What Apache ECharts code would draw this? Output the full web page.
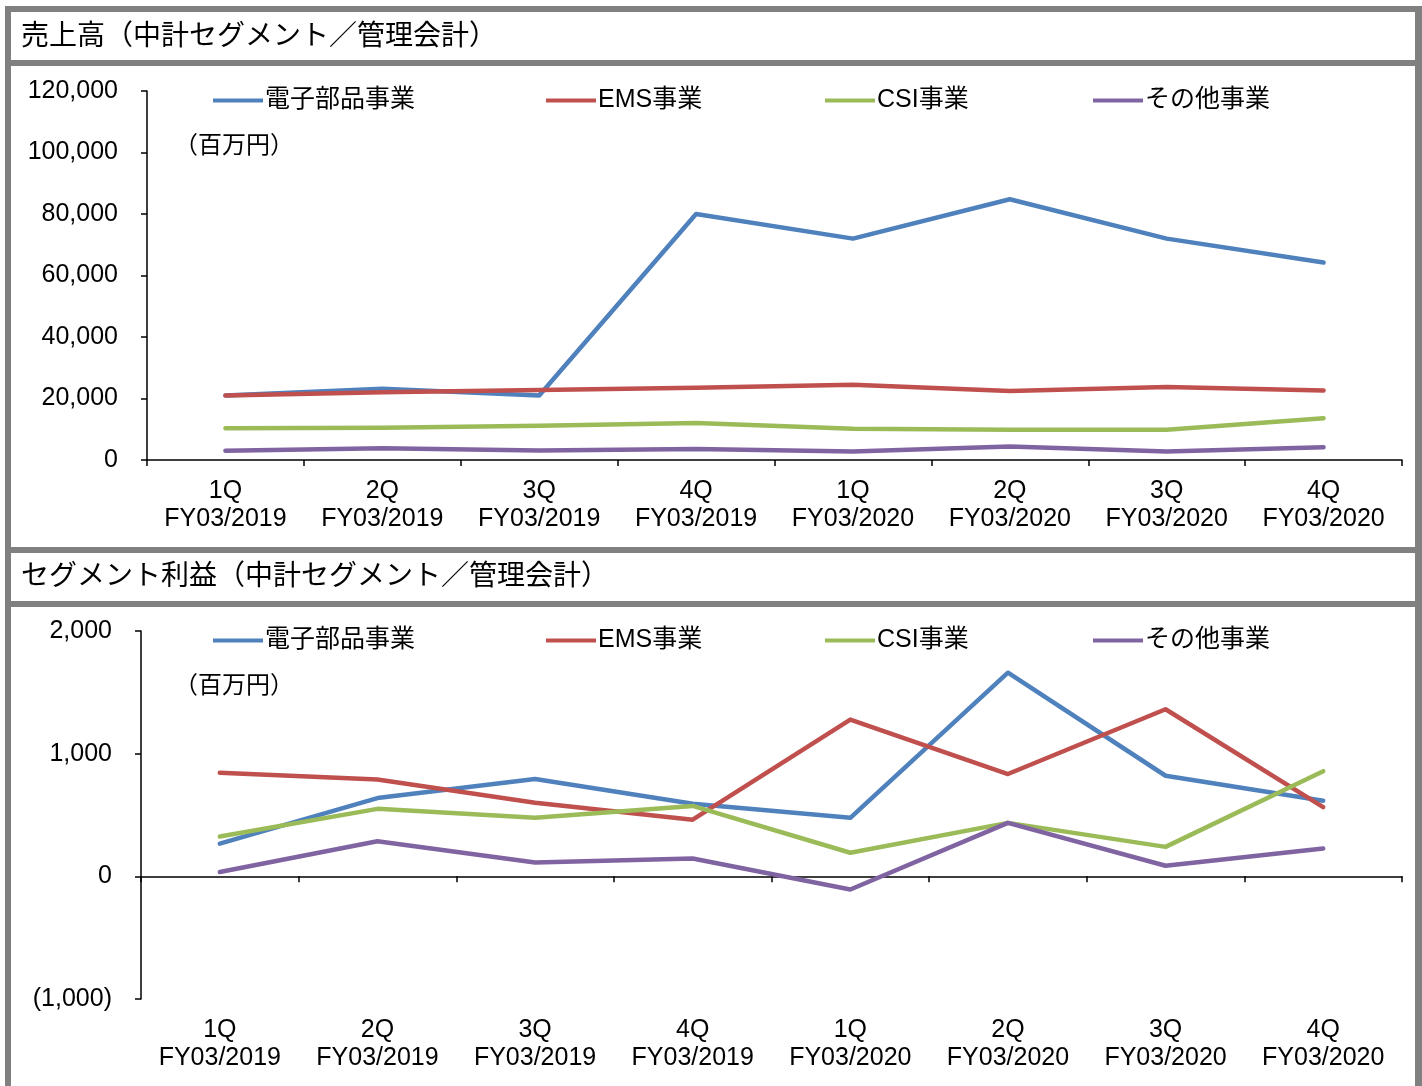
<!DOCTYPE html>
<html>
<head>
<meta charset="utf-8">
<script src="https://cdn.jsdelivr.net/npm/echarts@6/dist/echarts.min.js"></script>
<style>
html,body{margin:0;padding:0;background:#fff;}
#c{width:1422px;height:1086px;}
</style>
</head>
<body>
<div id="c"></div>
<script>
const categories = ['1Q\nFY03/2019','2Q\nFY03/2019','3Q\nFY03/2019','4Q\nFY03/2019','1Q\nFY03/2020','2Q\nFY03/2020','3Q\nFY03/2020','4Q\nFY03/2020'];
const seriesNames = ['電子部品事業','EMS事業','CSI事業','その他事業'];
const colors = ['#4F81BD','#C0504D','#9BBB59','#8064A2'];

// 売上高 (百万円)
const salesElectronic = [21000, 23200, 21000, 80000, 72000, 84800, 72000, 64200];
const salesEMS        = [21000, 22000, 22800, 23500, 24500, 22400, 23700, 22600];
const salesCSI        = [10300, 10500, 11100, 12000, 10150, 9800, 9800, 13600];
const salesOther      = [3000, 3850, 3100, 3550, 2800, 4350, 2800, 4150];

// セグメント利益 (百万円)
const profitElectronic = [266, 638, 794, 592, 477, 1660, 820, 616];
const profitEMS        = [844, 790, 600, 462, 1278, 834, 1362, 564];
const profitCSI        = [324, 550, 477, 574, 192, 436, 240, 857];
const profitOther      = [35, 286, 112, 145, -107, 436, 86, 226];

const yTicksTop = {min: 0, max: 120000, interval: 20000};
const yTicksBottom = {min: -1000, max: 2000, interval: 1000};

const title1 = '売上高（中計セグメント／管理会計）';
const title2 = 'セグメント利益（中計セグメント／管理会計）';
const unitLabel = '（百万円）';

const FONT = '"Liberation Sans", Arial, "Noto Sans CJK JP", sans-serif';
const JFONT = '"Noto Sans CJK JP", sans-serif';

const chart = echarts.init(document.getElementById('c'), null, {renderer: 'canvas'});

function fmt(v){
  const s = Math.abs(v).toLocaleString('en-US');
  return v < 0 ? '(' + s + ')' : s;
}

function mkLine(name, data, xi, yi){
  const c = colors[seriesNames.indexOf(name)];
  return {
    name: name, type: 'line', data: data,
    xAxisIndex: xi, yAxisIndex: yi,
    symbol: 'none', smooth: false,
    lineStyle: {width: 4.5, color: c, cap: 'round', join: 'round'},
    itemStyle: {color: c},
    z: 3
  };
}

const legendLefts = [213, 546, 825, 1093];
function mkLegends(top){
  return seriesNames.map((n, i) => ({
    data: [n],
    icon: 'rect',
    itemWidth: 50,
    itemHeight: 4,
    padding: 0,
    left: legendLefts[i],
    top: top,
    textStyle: {fontFamily: FONT, fontSize: 25, color: '#000', padding: [0,0,0,-3]}
  }));
}

const axisLineStyle = {lineStyle: {color: '#000', width: 1.5}};
const xLabel = {fontFamily: FONT, fontSize: 25, color:'#000', margin: 17, lineHeight: 28, interval: 0};
const yLabel = {fontFamily: FONT, fontSize: 25, color:'#000', margin: 29, formatter: fmt};

const option = {
  animation: false,
  backgroundColor: '#808080',
  color: colors,
  graphic: [
    {type:'rect', shape:{x:0,y:0,width:1422,height:6}, style:{fill:'#fff'}, z:-10, silent:true},
    {type:'rect', shape:{x:0,y:0,width:5,height:1086}, style:{fill:'#fff'}, z:-10, silent:true},
    {type:'rect', shape:{x:11,y:12,width:1404,height:48}, style:{fill:'#fff'}, z:-10, silent:true},
    {type:'rect', shape:{x:11,y:66,width:1404,height:481}, style:{fill:'#fff'}, z:-10, silent:true},
    {type:'rect', shape:{x:11,y:553,width:1404,height:48}, style:{fill:'#fff'}, z:-10, silent:true},
    {type:'rect', shape:{x:11,y:607,width:1404,height:479}, style:{fill:'#fff'}, z:-10, silent:true},
    {type:'text', left:21, top:20, style:{text:title1, font:'28px ' + JFONT, fill:'#000'}, z:10},
    {type:'text', left:21, top:560, style:{text:title2, font:'28px ' + JFONT, fill:'#000'}, z:10},
    {type:'text', left:174, top:132, style:{text:unitLabel, font:'24px ' + JFONT, fill:'#000'}, z:10},
    {type:'text', left:174, top:672, style:{text:unitLabel, font:'24px ' + JFONT, fill:'#000'}, z:10}
  ],
  legend: mkLegends(88).concat(mkLegends(628)),
  grid: [
    {left: 147, right: 20, top: 91, height: 369},
    {left: 141, right: 20, top: 631, height: 368}
  ],
  xAxis: [
    {type:'category', gridIndex:0, data: categories, boundaryGap:true,
      axisLine: axisLineStyle,
      axisTick: {show:true, length:6, inside:false, lineStyle:{color:'#000', width:1.5}},
      axisLabel: xLabel,
      splitLine: {show:false}},
    {type:'category', gridIndex:1, data: categories, boundaryGap:true,
      axisLine: {onZero: true, lineStyle:{color:'#000', width:1.5}},
      axisTick: {show:true, length:6, lineStyle:{color:'#000', width:1.5}},
      axisLabel: {show:false},
      splitLine: {show:false}},
    {type:'category', gridIndex:1, data: categories, boundaryGap:true, position:'bottom',
      axisLine: {show:false, onZero:false},
      axisTick: {show:false},
      axisLabel: xLabel,
      splitLine: {show:false}}
  ],
  yAxis: [
    {type:'value', gridIndex:0, min: yTicksTop.min, max: yTicksTop.max, interval: yTicksTop.interval,
      axisLine: {show:true, lineStyle:{color:'#000', width:1.5}},
      axisTick: {show:true, length:6, lineStyle:{color:'#000', width:1.5}},
      axisLabel: yLabel,
      splitLine: {show:false}},
    {type:'value', gridIndex:1, min: yTicksBottom.min, max: yTicksBottom.max, interval: yTicksBottom.interval,
      axisLine: {show:true, onZero:false, lineStyle:{color:'#000', width:1.5}},
      axisTick: {show:true, length:6, lineStyle:{color:'#000', width:1.5}},
      axisLabel: yLabel,
      splitLine: {show:false}}
  ],
  series: [
    mkLine('電子部品事業', salesElectronic, 0, 0),
    mkLine('EMS事業', salesEMS, 0, 0),
    mkLine('CSI事業', salesCSI, 0, 0),
    mkLine('その他事業', salesOther, 0, 0),
    mkLine('電子部品事業', profitElectronic, 1, 1),
    mkLine('EMS事業', profitEMS, 1, 1),
    mkLine('CSI事業', profitCSI, 1, 1),
    mkLine('その他事業', profitOther, 1, 1)
  ]
};
chart.setOption(option);
</script>
</body>
</html>
